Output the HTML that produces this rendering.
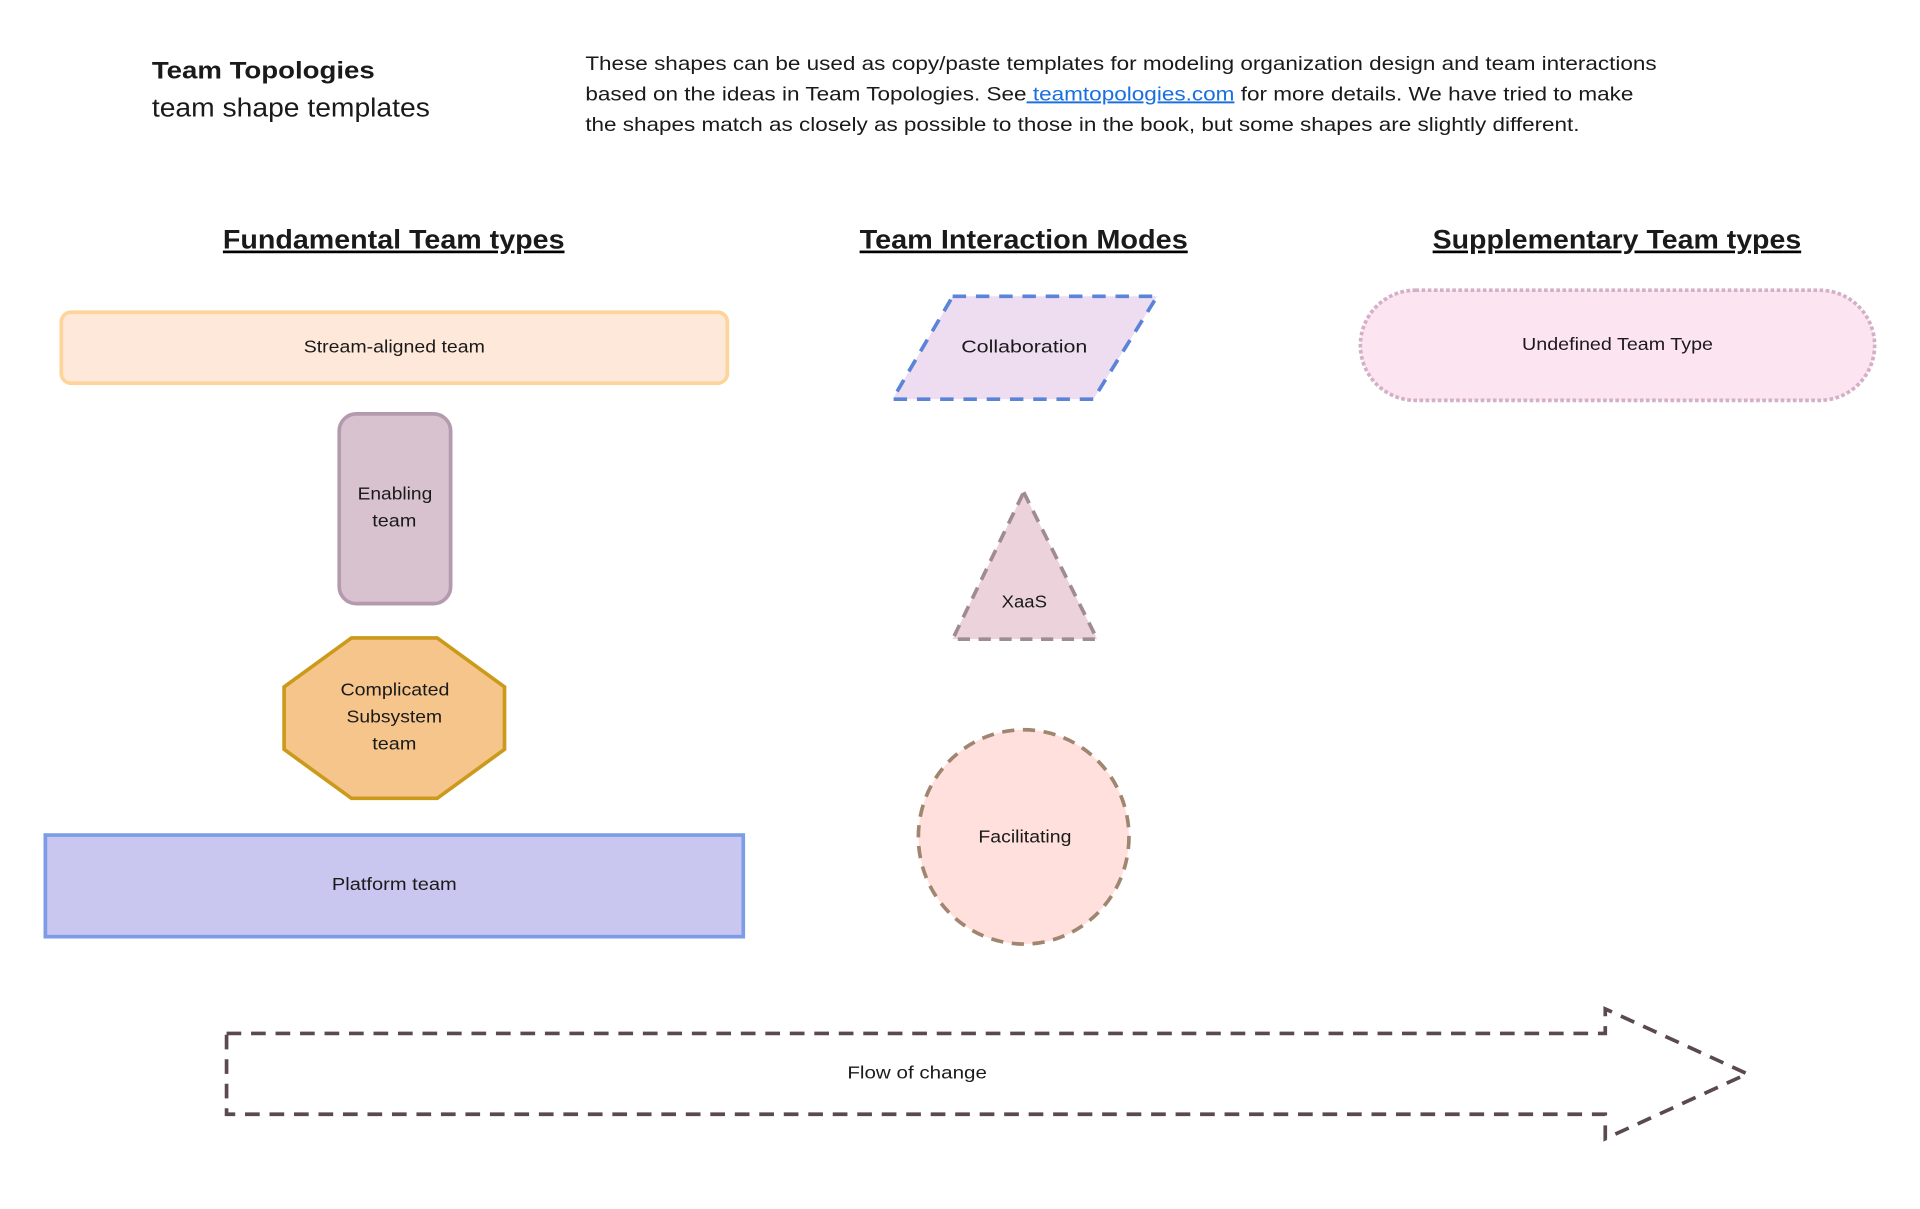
<!DOCTYPE html>
<html><head><meta charset="utf-8"><style>
html,body{margin:0;padding:0;background:#fff;width:1920px;height:1209px;overflow:hidden}
svg{display:block}
text{font-family:"Liberation Sans",sans-serif;fill:#1a1a1a}
</style></head><body>
<svg width="1920" height="1209" viewBox="0 0 1568 987.4" xmlns="http://www.w3.org/2000/svg">
<text x="124" y="64" font-size="20" font-weight="bold" textLength="182" lengthAdjust="spacingAndGlyphs">Team Topologies</text>
<text x="124" y="95" font-size="21" textLength="227" lengthAdjust="spacingAndGlyphs">team shape templates</text>
<g font-size="16">
<text x="478" y="57" textLength="875" lengthAdjust="spacingAndGlyphs">These shapes can be used as copy/paste templates for modeling organization design and team interactions</text>
<text x="478" y="82" textLength="856" lengthAdjust="spacingAndGlyphs">based on the ideas in Team Topologies. See<tspan fill="#1a6fe0" text-decoration="underline" style="fill:#1a6fe0"> teamtopologies.com</tspan> for more details. We have tried to make</text>
<text x="478" y="107" textLength="812" lengthAdjust="spacingAndGlyphs">the shapes match as closely as possible to those in the book, but some shapes are slightly different.</text>
</g>
<g font-size="22" font-weight="bold" text-decoration="underline">
<text x="182" y="203" textLength="279" lengthAdjust="spacingAndGlyphs">Fundamental Team types</text>
<text x="702" y="203" textLength="268" lengthAdjust="spacingAndGlyphs">Team Interaction Modes</text>
<text x="1170" y="203" textLength="301" lengthAdjust="spacingAndGlyphs">Supplementary Team types</text>
</g>
<rect x="50" y="255" width="544" height="58" rx="8" fill="#FEE8D9" stroke="#FDD49A" stroke-width="3"/>
<rect x="277" y="338" width="91" height="155" rx="14" fill="#D8C2CF" stroke="#B49AAE" stroke-width="3"/>
<polygon points="287,521 357,521 412,561 412,612 357,652 287,652 232,612 232,561" fill="#F5C58C" stroke="#CC9A1A" stroke-width="3"/>
<rect x="37" y="682" width="570" height="83" fill="#C9C6F0" stroke="#7B9DE8" stroke-width="3"/>
<polygon points="778,242 945,242 893,326 729,326" fill="#EEDCF0" stroke="#5B84D8" stroke-width="3" stroke-dasharray="11 8"/>
<polygon points="836,402 896,522 778,522" fill="#ECD3DB" stroke="#A08A94" stroke-width="3" stroke-dasharray="10 7"/>
<ellipse cx="836" cy="683.5" rx="86" ry="87.5" fill="#FFE0DC" stroke="#A08670" stroke-width="3" stroke-dasharray="10 7"/>
<rect x="1111" y="237" width="420" height="90" rx="45" fill="#FCE4F1" stroke="#D4B0C8" stroke-width="3" stroke-dasharray="3 2"/>
<polygon points="185,844 1311,844 1311,824 1427,877 1311,930 1311,910 185,910" fill="none" stroke="#5A4A4E" stroke-width="3" stroke-dasharray="12 8"/>
<g font-size="14.5">
<text x="248" y="288" textLength="148" lengthAdjust="spacingAndGlyphs">Stream-aligned team</text>
<text x="292" y="408" textLength="61" lengthAdjust="spacingAndGlyphs">Enabling</text>
<text x="304" y="430" textLength="36" lengthAdjust="spacingAndGlyphs">team</text>
<text x="278" y="568" textLength="89" lengthAdjust="spacingAndGlyphs">Complicated</text>
<text x="283" y="590" textLength="78" lengthAdjust="spacingAndGlyphs">Subsystem</text>
<text x="304" y="612" textLength="36" lengthAdjust="spacingAndGlyphs">team</text>
<text x="271" y="727" textLength="102" lengthAdjust="spacingAndGlyphs">Platform team</text>
<text x="785" y="288" textLength="103" lengthAdjust="spacingAndGlyphs">Collaboration</text>
<text x="818" y="496" textLength="37" lengthAdjust="spacingAndGlyphs">XaaS</text>
<text x="799" y="688" textLength="76" lengthAdjust="spacingAndGlyphs">Facilitating</text>
<text x="1243" y="286" textLength="156" lengthAdjust="spacingAndGlyphs">Undefined Team Type</text>
<text x="692" y="881" textLength="114" lengthAdjust="spacingAndGlyphs">Flow of change</text>
</g>
</svg>
</body></html>
